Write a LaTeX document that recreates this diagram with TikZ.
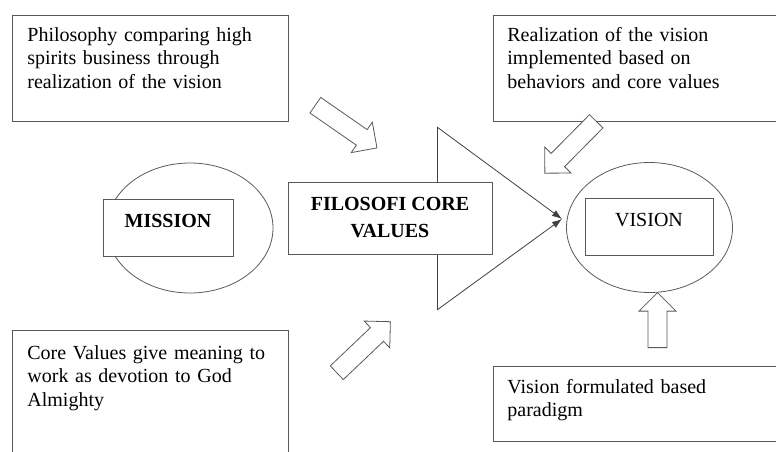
\documentclass[tikz,border=0pt]{standalone}
\usepackage{fontspec}
\setmainfont{Liberation Serif}
\usetikzlibrary{shapes.geometric,shapes.arrows,arrows.meta}

\begin{document}
\begin{tikzpicture}[x=1pt,y=-1pt,line width=0.8pt,
	every node/.style={font=\fontsize{20}{23.5}\selectfont},
	textbox/.style={draw=black!65,fill=white,anchor=north west,align=left,inner xsep=15pt,inner ysep=8pt,text height=18pt},
	oval/.style={draw=black!65,ellipse,inner sep=0pt,minimum width=166pt,minimum height=130pt},
	titlebox/.style={draw=black!65,fill=white,inner ysep=8pt,text height=20pt,text depth=21pt},
	hollowarrow/.style={draw=black!65,fill=white,single arrow,anchor=tail,inner xsep=0pt,inner ysep=9pt,minimum width=37pt,single arrow head extend=9pt,single arrow head indent=0pt}]
			\clip (0,0) rectangle (776,452);
			%draw text boxes
			\node[textbox,text width=246pt,text depth=72pt] (philo) at (12,15) {Philosophy comparing high\\spirits business through\\realization of the vision};
			\node[textbox,text width=300pt,text depth=72pt,inner xsep=14pt] (realize) at (493,15) {Realization of the vision\\implemented based on\\behaviors and core values};
			\node[textbox,text width=246pt,text height=21pt,text depth=120pt] (devotion) at (12,330) {Core Values give meaning to\\work as devotion to God\\Almighty};
			\node[textbox,text width=300pt,text height=19pt,text depth=40pt,inner xsep=14pt] (paradigm) at (493,366) {Vision formulated based\\paradigm};
			%draw mission and vision
			\node[oval] (missionoval) at (190,228) {};
			\node[titlebox,minimum width=130pt,font=\fontsize{20}{23.5}\selectfont\bfseries] (mission) at (168,227.5) {MISSION};
			\node[oval] (visionoval) at (649.5,227.5) {};
			\node[titlebox,minimum width=128pt] (vision) at (649,227) {VISION};
			%draw triangle
			\coordinate (tritop) at (437,127);
			\coordinate (tribot) at (437,310);
			\coordinate (apex) at (562,219);
			\draw[black!75] (tritop) -- (tribot);
			\draw[black!75,-{Latex[length=10pt,width=7pt]}] (tritop) -- (apex);
			\draw[black!75,-{Latex[length=10pt,width=7pt]}] (tribot) -- (apex);
			\node[draw=black!65,fill=white,align=center,minimum width=204pt,minimum height=72pt,font=\fontsize{20}{27}\selectfont\bfseries] (core) at (390,218) {FILOSOFI CORE\\VALUES};
			%draw hollow arrows
			\foreach \x/\y/\a/\l/\n in {315/105/-34.7/75/arrphilo, 596.5/121/-134.7/73/arrrealize, 336.5/373/43.6/74/arrdevotion, 657.5/348/90/55/arrparadigm}{
				\node[hollowarrow,rotate=\a,minimum height=\l pt] (\n) at (\x,\y) {};
			}
			\end{tikzpicture}
\end{document}
